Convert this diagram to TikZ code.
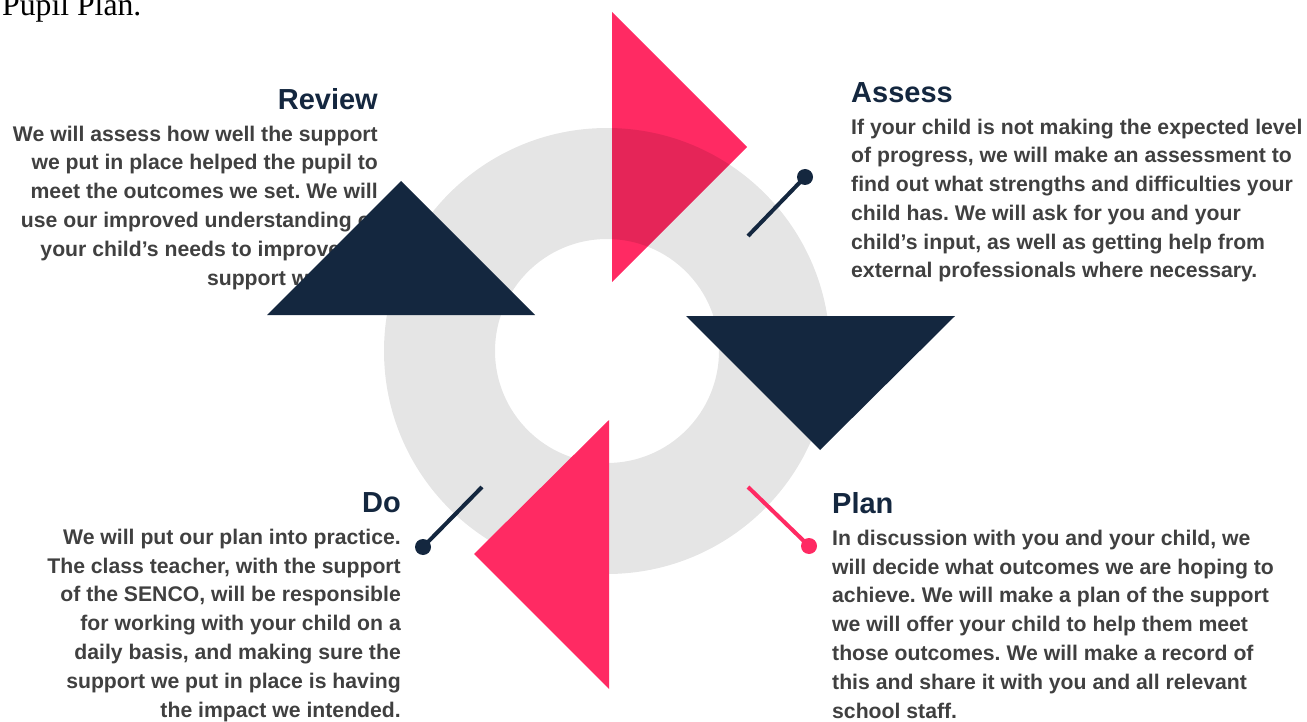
\documentclass[tikz,border=0pt]{standalone}
\usepackage{fontspec}
\setmainfont{Liberation Sans}
\newfontfamily\planserif{Liberation Serif}
\usetikzlibrary{positioning}
\frenchspacing
\definecolor{navy}{HTML}{14273F}
\definecolor{rose}{HTML}{FF2A63}
\definecolor{bodygray}{HTML}{404040}
\tikzset{
   heading/.style={font=\bfseries\fontsize{29}{34}\selectfont, text=navy, inner sep=0pt},
   blurb/.style={font=\bfseries\fontsize{21.2}{28.8}\selectfont, text=bodygray, inner sep=0pt},
   pinhead/.style={circle, inner sep=0pt, minimum size=16pt},
   pinline/.style={line width=4pt},
}

\begin{document}
\begin{tikzpicture}[x=1pt,y=-1pt]
      \useasboundingbox (0,0) rectangle (1307,722);

      \node[font=\planserif\fontsize{31.7}{36}\selectfont, inner sep=0pt, anchor=base west] (pp) at (2,16) {Pupil Plan.};

      \node[heading, anchor=base east] (rv0) at (378,110) {Review};
      \node[blurb, anchor=base east, align=right] (rv1) at (378,285)
         {We will assess how well the support\\
          we put in place helped the pupil to\\
          meet the outcomes we set. We will\\
          use our improved understanding of\\
          your child’s needs to improve the\\
          support we offer.};

      \fill[rose] (612,12) -- (747,147) -- (612,282) -- cycle;
      \fill[black, opacity=0.1, even odd rule] (607,351) circle (223) (607,351) circle (112);

      \fill[navy] (267,315) -- (401,181) -- (535,315) -- cycle;
      \fill[navy] (686,316) -- (955,316) -- (820,450) -- cycle;
      \fill[rose] (609,420) -- (609,689) -- (474,554) -- cycle;

      \coordinate (as1) at (748,236);
      \node[pinhead, fill=navy] (as2) at (805,177) {};
      \draw[pinline, navy] (as1) -- (as2.center);

      \coordinate (pl1) at (748,487);
      \node[pinhead, fill=rose] (pl2) at (809,546) {};
      \draw[pinline, rose] (pl1) -- (pl2.center);

      \coordinate (do1) at (482,487);
      \node[pinhead, fill=navy] (do2) at (423,547) {};
      \draw[pinline, navy] (do1) -- (do2.center);

      \node[heading, anchor=base west] (as0) at (851,103) {Assess};
      \node[blurb, anchor=base west, align=left] (as3) at (851,278)
         {If your child is not making the expected level\\
          of progress, we will make an assessment to\\
          find out what strengths and difficulties your\\
          child has. We will ask for you and your\\
          child’s input, as well as getting help from\\
          external professionals where necessary.};

      \node[heading, anchor=base west] (pl0) at (832,513) {Plan};
      \node[blurb, anchor=base west, align=left] (pl3) at (832,718)
         {In discussion with you and your child, we\\
          will decide what outcomes we are hoping to\\
          achieve. We will make a plan of the support\\
          we will offer your child to help them meet\\
          those outcomes. We will make a record of\\
          this and share it with you and all relevant\\
          school staff.};

      \node[heading, anchor=base east] (do0) at (401,512) {Do};
      \node[blurb, anchor=base east, align=right] (do3) at (401,717)
         {We will put our plan into practice.\\
          The class teacher, with the support\\
          of the SENCO, will be responsible\\
          for working with your child on a\\
          daily basis, and making sure the\\
          support we put in place is having\\
          the impact we intended.};
\end{tikzpicture}
\end{document}
